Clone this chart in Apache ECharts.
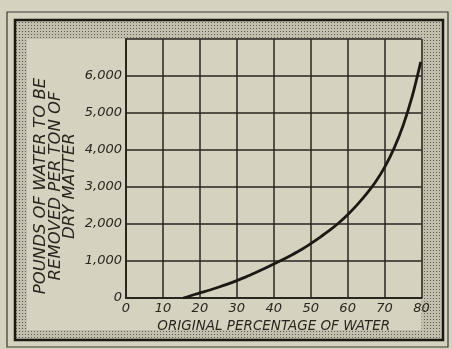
<!DOCTYPE html>
<html>
<head>
<meta charset="utf-8">
<script src="https://cdn.jsdelivr.net/npm/echarts@6/dist/echarts.min.js"></script>
<style>
html,body{margin:0;padding:0;background:#d7d3c2;}
#c{width:452px;height:349px;}
</style>
</head>
<body>
<div id="c"></div>
<script>
// Data
const waterPct = [15.5, 17.5, 20, 22.5, 25, 27.5, 30, 32.5, 35, 37.5, 40, 42.5, 45, 47.5, 50,
                  52.5, 55, 57.5, 60, 62.5, 65, 67.5, 70, 72.5, 75, 77.5, 79.8];
const poundsRemoved = [0, 60, 140, 210, 290, 375, 470, 570, 680, 795, 920, 1040, 1170, 1310, 1470,
                       1640, 1820, 2020, 2250, 2510, 2800, 3130, 3530, 4030, 4655, 5455, 6380];
const xTicks = [0, 10, 20, 30, 40, 50, 60, 70, 80];
const yTicks = [0, 1000, 2000, 3000, 4000, 5000, 6000];
const xTitle = 'ORIGINAL PERCENTAGE OF WATER';
const yTitleLines = ['POUNDS OF WATER TO BE', 'REMOVED PER TON OF', 'DRY MATTER'];

const paper = '#d6d2c0';
const ink = '#29251f';

// stipple pattern for the border band
const pc = document.createElement('canvas');
pc.width = 3; pc.height = 3;
const pctx = pc.getContext('2d');
pctx.fillStyle = '#c3bfae'; pctx.fillRect(0, 0, 3, 3);
pctx.fillStyle = '#5f5b53';
pctx.fillRect(1, 1, 1, 1);

function fmt(v) {
  if (v > yTicks[yTicks.length - 1]) return '';
  return String(v).replace(/\B(?=(\d{3})+(?!\d))/g, ',');
}

const chart = echarts.init(document.getElementById('c'), null, {renderer: 'canvas'});
chart.setOption({
  backgroundColor: paper,
  animation: false,
  grid: {left: 126, right: 30.5, top: 39, bottom: 51, show: false},
  graphic: [
    {type: 'rect', z: -10, shape: {x: 7, y: 12, width: 441, height: 335},
     style: {fill: 'none', stroke: '#3a3630', lineWidth: 1.2}},
    {type: 'rect', z: -9, shape: {x: 15, y: 20, width: 428, height: 320},
     style: {fill: {image: pc, repeat: 'repeat'}, stroke: '#1c1814', lineWidth: 2.5}},
    {type: 'rect', z: -8, shape: {x: 27, y: 39, width: 394.5, height: 291},
     style: {fill: paper, stroke: 'none'}},
    {type: 'text', z: 5, x: 56, y: 186, rotation: Math.PI / 2, scaleX: 1.1,
     style: {text: yTitleLines.join('\n'), font: 'italic 15px "DejaVu Sans"',
             fill: ink, textAlign: 'center', textVerticalAlign: 'middle',
             align: 'center', verticalAlign: 'middle', lineHeight: 14.5}}
  ],
  xAxis: {
    type: 'value', min: xTicks[0], max: xTicks[xTicks.length - 1], interval: 10, z: 10,
    axisLine: {show: true, onZero: false, lineStyle: {color: ink, width: 2}},
    axisTick: {show: false},
    axisLabel: {color: ink, margin: 4, fontFamily: 'DejaVu Sans', fontStyle: 'italic', fontSize: 13},
    splitLine: {show: true, lineStyle: {color: ink, width: 1.5}},
    name: xTitle, nameLocation: 'middle', nameGap: 13,
    nameTextStyle: {color: ink, fontFamily: 'DejaVu Sans', fontStyle: 'italic', fontSize: 13.5}
  },
  yAxis: {
    type: 'value', min: 0, max: 7000, interval: 1000, z: 10,
    axisLine: {show: true, onZero: false, lineStyle: {color: ink, width: 2}},
    axisTick: {show: false},
    axisLabel: {color: ink, margin: 4, fontFamily: 'DejaVu Sans', fontStyle: 'italic', fontSize: 13,
                formatter: fmt},
    splitLine: {show: true, lineStyle: {color: ink, width: 1.5}}
  },
  series: [{
    type: 'line', z: 12,
    data: waterPct.map((x, i) => [x, poundsRemoved[i]]),
    smooth: 0.3, showSymbol: false, symbol: 'none',
    lineStyle: {color: '#1c1814', width: 2.8}
  }]
});
</script>
</body>
</html>
